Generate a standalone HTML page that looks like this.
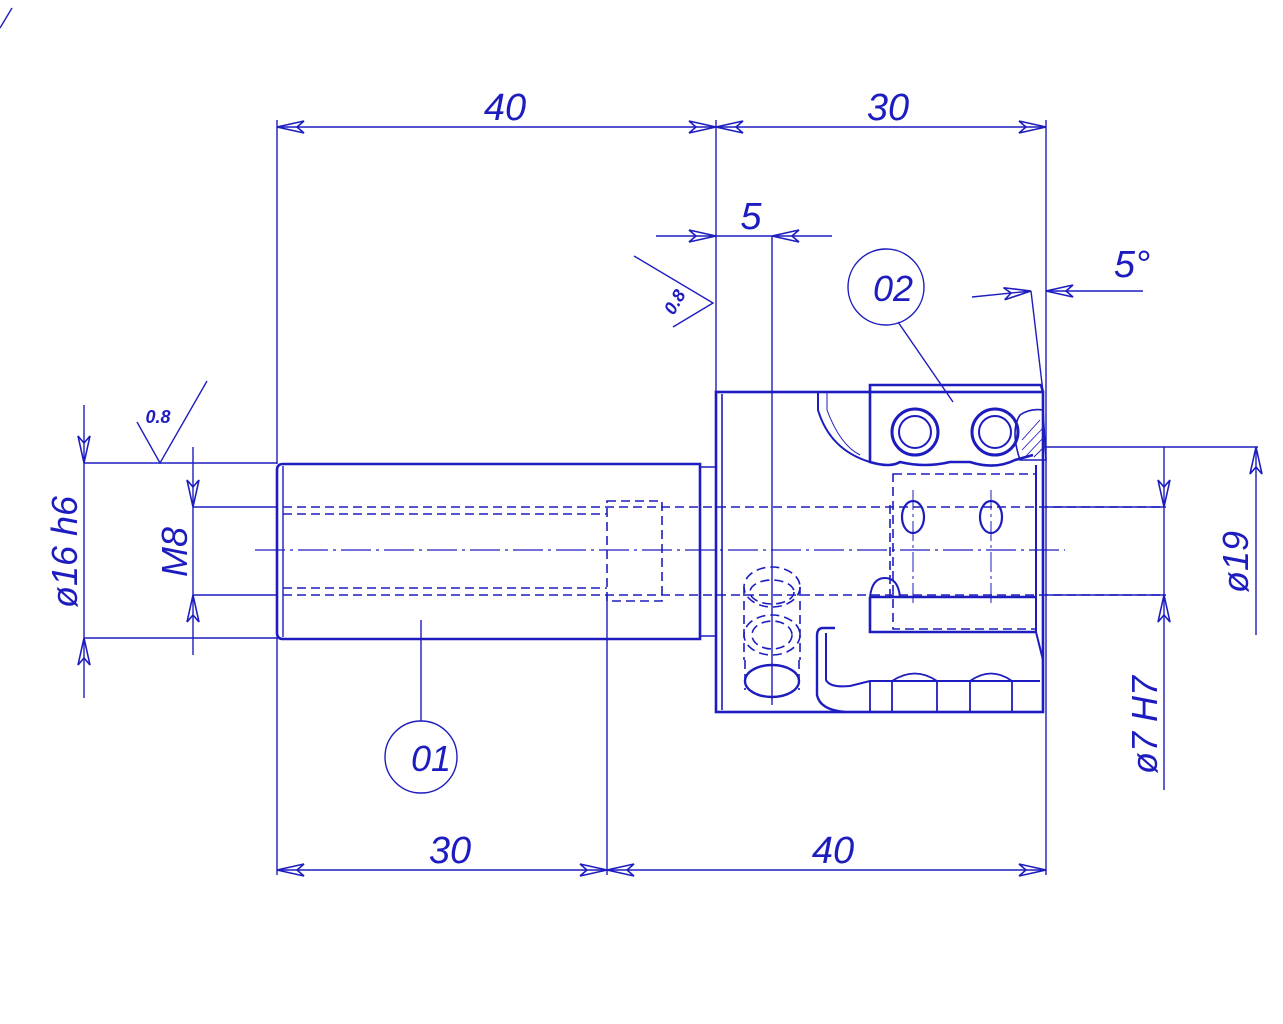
<!DOCTYPE html>
<html><head><meta charset="utf-8"><style>
html,body{margin:0;padding:0;background:#fff;}
svg{display:block;}
text{font-family:"Liberation Sans",sans-serif;font-style:italic;fill:#1d1dbf;}
</style></head><body>
<svg width="1283" height="1024" viewBox="0 0 1283 1024" xmlns="http://www.w3.org/2000/svg">
<defs>
<marker id="a" markerUnits="userSpaceOnUse" markerWidth="34" markerHeight="16" viewBox="-30 -8 34 16" refX="0" refY="0" orient="auto">
<path d="M0,0 L-27,-6 L-20,0 L-27,6 Z" fill="none" stroke="#1d1dbf" stroke-width="1.6"/>
</marker>
</defs>
<g stroke="#1d1dbf" fill="none" stroke-width="1.4">
<!-- corner mark -->
<line x1="0" y1="28" x2="12" y2="8"/>
<!-- top dims -->
<line x1="277" y1="120" x2="277" y2="464"/>
<line x1="716" y1="120" x2="716" y2="392"/>
<line x1="1046" y1="120" x2="1046" y2="875"/>
<line x1="497" y1="127" x2="277" y2="127" marker-end="url(#a)"/>
<line x1="497" y1="127" x2="716" y2="127" marker-end="url(#a)"/>
<line x1="880" y1="127" x2="716" y2="127" marker-end="url(#a)"/>
<line x1="880" y1="127" x2="1046" y2="127" marker-end="url(#a)"/>
<!-- dim 5 -->
<line x1="656" y1="236" x2="716" y2="236" marker-end="url(#a)"/>
<line x1="832" y1="236" x2="772" y2="236" marker-end="url(#a)"/>
<line x1="716" y1="236" x2="772" y2="236"/>
<line x1="772" y1="236" x2="772" y2="705"/>
<!-- 5 deg -->
<line x1="972" y1="297" x2="1031" y2="291" marker-end="url(#a)"/>
<line x1="1143" y1="291" x2="1046" y2="291" marker-end="url(#a)"/>
<line x1="1031" y1="291" x2="1043" y2="392"/>
<!-- surface finish top -->
<polyline points="634,256 713,303 673,327"/>
<!-- surface finish left -->
<polyline points="137,422 160,463 207,381"/>
<!-- leader 02 -->
<circle cx="886" cy="287" r="38"/>
<line x1="898" y1="322" x2="953" y2="402"/>
<!-- leader 01 -->
<circle cx="421" cy="757" r="36"/>
<line x1="421" y1="620" x2="421" y2="721"/>
<!-- left dims -->
<line x1="84" y1="463" x2="277" y2="463"/>
<line x1="84" y1="638" x2="277" y2="638"/>
<line x1="84" y1="405" x2="84" y2="463" marker-end="url(#a)"/>
<line x1="84" y1="698" x2="84" y2="638" marker-end="url(#a)"/>
<line x1="84" y1="463" x2="84" y2="638"/>
<line x1="193" y1="507" x2="277" y2="507"/>
<line x1="193" y1="595" x2="277" y2="595"/>
<line x1="193" y1="447" x2="193" y2="507" marker-end="url(#a)"/>
<line x1="193" y1="655" x2="193" y2="595" marker-end="url(#a)"/>
<line x1="193" y1="507" x2="193" y2="595"/>
<!-- right dims -->
<line x1="1046" y1="447" x2="1258" y2="447"/>
<line x1="1046" y1="507" x2="1166" y2="507"/>
<line x1="1046" y1="595" x2="1166" y2="595"/>
<line x1="1256" y1="635" x2="1256" y2="447" marker-end="url(#a)"/>
<line x1="1164" y1="447" x2="1164" y2="507" marker-end="url(#a)"/>
<line x1="1164" y1="790" x2="1164" y2="595" marker-end="url(#a)"/>
<line x1="1164" y1="507" x2="1164" y2="595"/>
<!-- bottom dims -->
<line x1="277" y1="638" x2="277" y2="875"/>
<line x1="607" y1="595" x2="607" y2="875"/>
<line x1="440" y1="870" x2="277" y2="870" marker-end="url(#a)"/>
<line x1="440" y1="870" x2="607" y2="870" marker-end="url(#a)"/>
<line x1="820" y1="870" x2="607" y2="870" marker-end="url(#a)"/>
<line x1="820" y1="870" x2="1046" y2="870" marker-end="url(#a)"/>
<!-- centerline -->
<line x1="255" y1="550" x2="1065" y2="550" stroke-dasharray="30,5,3,5" stroke-width="1.2"/>
<line x1="913" y1="490" x2="913" y2="605" stroke-dasharray="20,4,3,4" stroke-width="1"/>
<line x1="991" y1="490" x2="991" y2="605" stroke-dasharray="20,4,3,4" stroke-width="1"/>
</g>
<!-- part outlines -->
<g stroke="#1d1dbf" fill="none" stroke-width="2.6">
<path d="M283,464 L700,464 L700,639 L283,639 Q277,639 277,633 L277,470 Q277,464 283,464 Z"/>
<line x1="283" y1="466" x2="283" y2="637" stroke-width="1.4"/>
<path d="M700,467 L716,467 M700,636 L716,636" stroke-width="1.6"/>
<rect x="716" y="392" width="327" height="320"/>
<line x1="722" y1="394" x2="722" y2="710" stroke-width="1.6"/>
<!-- insert top -->
<path d="M870,392 L870,385 L1041,385 L1043,392"/>
<path d="M870,392 L870,462 Q890,468 900,462 Q925,468 950,462 L970,462 Q995,470 1015,460 L1033,455"/>
<path d="M1020,415 Q1030,408 1043,410 L1046,460 L1020,460 Q1010,430 1020,415 Z" stroke-width="1.6"/>
<!-- pocket arc -->
<path d="M818,392 L818,410 Q830,450 870,462" stroke-width="2"/>
<path d="M827,392 L827,410 Q840,445 860,455" stroke-width="1"/>
<!-- screws -->
<circle cx="915" cy="432" r="23" stroke-width="3"/>
<circle cx="915" cy="432" r="16" stroke-width="2"/>
<circle cx="995" cy="432" r="23" stroke-width="3"/>
<circle cx="995" cy="432" r="16" stroke-width="2"/>
<!-- holder lower part -->
<path d="M870,597 L1036,597 M870,597 L870,632 L1036,632"/>
<path d="M870,597 Q872,578 885,578 Q898,578 900,597" stroke-width="2"/>
<path d="M835,628 L823,628 Q817,628 817,636 L817,695 Q820,710 845,712" stroke-width="2.4"/>
<path d="M826,633 L826,680 Q830,688 850,686 L870,681 L1040,681" stroke-width="2"/>
<path d="M870,681 L870,712 M892,681 L892,712 M937,681 L937,712 M970,681 L970,712 M1012,681 L1012,712" stroke-width="1.8"/>
<path d="M892,681 Q915,666 937,681 M970,681 Q991,666 1012,681" stroke-width="1.8"/>
<path d="M1036,465 L1036,632 L1043,660" stroke-width="2"/>
<ellipse cx="913" cy="517" rx="11" ry="16" stroke-width="2.2"/>
<ellipse cx="991" cy="517" rx="11" ry="16" stroke-width="2.2"/>
<ellipse cx="772" cy="681" rx="27" ry="16" stroke-width="2.4"/>
</g>
<!-- hatch -->
<g stroke="#1d1dbf" stroke-width="0.9">
<line x1="1022" y1="440" x2="1040" y2="420"/><line x1="1022" y1="450" x2="1043" y2="428"/><line x1="1026" y1="456" x2="1044" y2="437"/><line x1="1034" y1="457" x2="1045" y2="446"/>
</g>
<!-- hidden lines -->
<g stroke="#1d1dbf" fill="none" stroke-width="1.6" stroke-dasharray="9,5">
<line x1="283" y1="507" x2="1165" y2="507"/>
<line x1="283" y1="514" x2="607" y2="514"/>
<line x1="283" y1="588" x2="607" y2="588"/>
<line x1="283" y1="595" x2="1165" y2="595"/>
<rect x="607" y="501" width="55" height="100"/>
<rect x="893" y="474" width="143" height="155"/>
<line x1="890" y1="505" x2="890" y2="600"/>
<ellipse cx="772" cy="587" rx="28" ry="20"/>
<ellipse cx="772" cy="592" rx="22" ry="12"/>
<ellipse cx="772" cy="635" rx="28" ry="20"/>
<ellipse cx="772" cy="635" rx="20" ry="14"/>
<line x1="744" y1="587" x2="744" y2="660"/>
<line x1="800" y1="587" x2="800" y2="660"/>
<line x1="745" y1="660" x2="745" y2="690"/>
<line x1="799" y1="660" x2="799" y2="690"/>
</g>
<!-- texts -->
<text x="505" y="120" font-size="38" text-anchor="middle">40</text>
<text x="888" y="120" font-size="38" text-anchor="middle">30</text>
<text x="751" y="229" font-size="38" text-anchor="middle">5</text>
<text x="1132" y="277" font-size="38" text-anchor="middle">5°</text>
<text x="893" y="301" font-size="36" text-anchor="middle">02</text>
<text x="431" y="771" font-size="36" text-anchor="middle">01</text>
<text x="450" y="863" font-size="38" text-anchor="middle">30</text>
<text x="833" y="863" font-size="38" text-anchor="middle">40</text>
<text x="158" y="423" font-size="18" font-weight="bold" text-anchor="middle">0.8</text>
<text transform="translate(680,305) rotate(-60)" font-size="18" font-weight="bold" text-anchor="middle">0.8</text>
<text transform="translate(77,552) rotate(-90)" font-size="36" text-anchor="middle">ø16 h6</text>
<text transform="translate(187,552) rotate(-90)" font-size="36" text-anchor="middle">M8</text>
<text transform="translate(1248,562) rotate(-90)" font-size="36" text-anchor="middle">ø19</text>
<text transform="translate(1157,725) rotate(-90)" font-size="36" text-anchor="middle">ø7 H7</text>
</svg>
</body></html>
